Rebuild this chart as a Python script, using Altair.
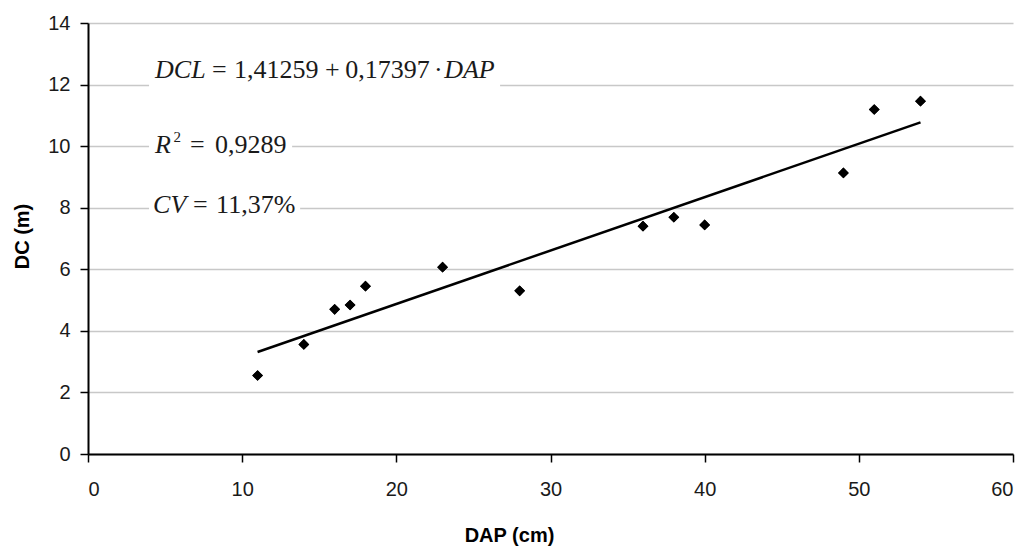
import altair as alt
import pandas as pd

# Data
dap = [11, 14, 16, 17, 18, 23, 28, 36, 38, 40, 49, 51, 54]
dc = [2.55, 3.56, 4.70, 4.84, 5.45, 6.07, 5.30, 7.40, 7.69, 7.44, 9.13, 11.19, 11.46]

x_ticks = [0, 10, 20, 30, 40, 50, 60]
y_ticks = [0, 2, 4, 6, 8, 10, 12, 14]

# Annotation text segments (data coordinates of left/baseline anchor)
seg_text = ["DCL", "=", "1,41259", "+", "0,17397", "·", "DAP",
            "R", "=", "0,9289",
            "CV", "=", "11,37%"]
seg_style = ["italic", "normal", "normal", "normal", "normal", "normal", "italic",
             "italic", "normal", "normal",
             "italic", "normal", "normal"]
seg_x = [4.35, 8.05, 9.47, 15.38, 16.68, 22.45, 23.10,
         4.35, 6.62, 8.24,
         4.22, 6.81, 8.31]
seg_y = [12.21, 12.21, 12.21, 12.21, 12.21, 12.21, 12.21,
         9.78, 9.78, 9.78,
         7.83, 7.83, 7.83]
sup_text = ["2"]
sup_x = [5.54]
sup_y = [10.13]

# white boxes behind annotations
box_x = [3.96, 3.96, 3.96]
box_x2 = [26.73, 13.24, 13.76]
box_y = [11.5, 9.5, 7.4]
box_y2 = [13.0, 10.7, 8.6]

pts = pd.DataFrame({"DAP": dap, "DC": dc})
segs = pd.DataFrame({"t": seg_text, "s": seg_style, "x": seg_x, "y": seg_y})
sups = pd.DataFrame({"t": sup_text, "x": sup_x, "y": sup_y})
boxes = pd.DataFrame({"x": box_x, "x2": box_x2, "y": box_y, "y2": box_y2})

xscale = alt.Scale(domain=[0, 60], nice=False, zero=False)
yscale = alt.Scale(domain=[0, 14], nice=False, zero=False)

xaxis = alt.Axis(values=x_ticks, grid=False, title="DAP (cm)", format="d",
                 titleX=421, titleY=81, titleBaseline="middle",
                 labelPadding=17)
yaxis = alt.Axis(values=y_ticks, grid=True, title="DC (m)", format="d",
                 titleX=-66, titleY=213, titleAngle=-90, titleBaseline="middle",
                 titleAlign="center", labelPadding=10)

base_x = alt.X("DAP:Q", scale=xscale, axis=xaxis)
base_y = alt.Y("DC:Q", scale=yscale, axis=yaxis)

points = alt.Chart(pts).mark_point(shape="diamond", filled=True, color="black",
                                   size=115, opacity=1).encode(x=base_x, y=base_y)

trend = alt.Chart(pts).transform_regression("DAP", "DC", method="linear").mark_line(
    color="black", strokeWidth=2.5).encode(
    x=alt.X("DAP:Q", scale=xscale), y=alt.Y("DC:Q", scale=yscale))

rects = alt.Chart(boxes).mark_rect(color="white").encode(
    x=alt.X("x:Q", scale=xscale), x2="x2:Q",
    y=alt.Y("y:Q", scale=yscale), y2="y2:Q")

def seg_layer(style):
    return alt.Chart(segs).transform_filter(alt.datum.s == style).mark_text(
        align="left", baseline="alphabetic", font="Liberation Serif",
        fontSize=26, fontStyle=style, color="#1a1a1a").encode(
        x=alt.X("x:Q", scale=xscale), y=alt.Y("y:Q", scale=yscale), text="t:N")

sup = alt.Chart(sups).mark_text(align="left", baseline="alphabetic",
                                font="Liberation Serif", fontSize=15,
                                color="#1a1a1a").encode(
    x=alt.X("x:Q", scale=xscale), y=alt.Y("y:Q", scale=yscale), text="t:N")

chart = alt.layer(points, rects, seg_layer("italic"), seg_layer("normal"), sup,
                  trend, points).properties(
    width=925, height=431,
    autosize=alt.AutoSizeParams(type="none"),
    padding={"left": 88, "top": 23, "right": 14, "bottom": 92},
    background="white",
).configure_view(stroke=None).configure_axis(
    domainColor="black", domainWidth=2, tickColor="black", tickWidth=1.5,
    tickSize=8, gridColor="#c8c8c8", gridWidth=1.5,
    labelFont="Liberation Sans", labelFontSize=20, labelColor="#1a1a1a",
    titleFont="Liberation Sans", titleFontSize=20, titleFontWeight="bold",
    titleColor="black"
)

chart.save("out.html", embed_options={"renderer": "svg", "actions": False})
